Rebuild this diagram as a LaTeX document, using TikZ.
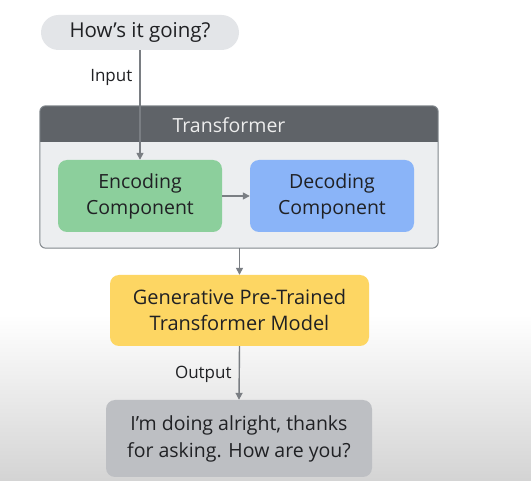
\documentclass[tikz,border=0pt]{standalone}
\usepackage{fontspec}
\setmainfont{Open Sans}
\usetikzlibrary{arrows.meta}
\definecolor{txt}{HTML}{202124}
\definecolor{pillgrey}{HTML}{E3E5E8}
\definecolor{hdrgrey}{HTML}{5F6368}
\definecolor{bodygrey}{HTML}{ECEEF0}
\definecolor{edgegrey}{HTML}{80868B}
\definecolor{encgreen}{HTML}{8CCF9C}
\definecolor{decblue}{HTML}{8AB4F8}
\definecolor{gptyellow}{HTML}{FDD663}
\definecolor{outgrey}{HTML}{BDBFC3}
\definecolor{arrowgrey}{HTML}{7A7E83}
\tikzset{
  x=1pt, y=-1pt,
  box/.style={rectangle, rounded corners=9pt, align=center, text=txt,
    font=\fontsize{19.5}{26}\selectfont, inner sep=0pt},
  flow/.style={draw=arrowgrey, line width=1.4pt,
    -{Triangle[width=7pt,length=7pt]}},
  lbl/.style={text=txt, font=\fontsize{17}{20}\selectfont, inner sep=0pt, xshift=-7pt}
}
\begin{document}
\begin{tikzpicture}
  % canvas with a soft shading towards the bottom
  \useasboundingbox (0,0) rectangle (531,481);
  \fill[white] (0,0) rectangle (531,481);
  \shade[top color=white, bottom color=black!17] (0,315) rectangle (531,481);

  % question bubble
  \node[box, fill=pillgrey, rounded corners=17.5pt, minimum width=198pt,
    minimum height=35pt, font=\fontsize{20.5}{24}\selectfont] (q) at (140,32.5) {How’s it going?};

  % transformer frame
  \node[rectangle, rounded corners=6pt, fill=bodygrey, minimum width=398pt,
    minimum height=142pt, inner sep=0pt] (tf) at (239,177) {};
  \begin{scope}
    \clip[rounded corners=6pt] (tf.north west) rectangle (tf.south east);
    \fill[hdrgrey] (tf.north west) rectangle ([yshift=-36pt]tf.north east);
  \end{scope}
  \draw[edgegrey, line width=1pt, rounded corners=6pt] (tf.north west) rectangle (tf.south east);
  \node[text=white!93!black, font=\fontsize{19.5}{23}\selectfont, inner sep=0pt] (tftitle) at (229,125) {Transformer};

  % components
  \node[box, fill=encgreen, minimum width=164pt, minimum height=72pt] (enc) at (140,196) {Encoding\\Component};
  \node[box, fill=decblue, minimum width=164pt, minimum height=72pt] (dec) at (332,196) {Decoding\\Component};

  % model and answer
  \node[box, fill=gptyellow, minimum width=259pt, minimum height=71pt, font=\fontsize{20}{26}\selectfont] (gpt) at (239.5,310.5) {Generative Pre-Trained\\Transformer Model};
  \node[box, fill=outgrey, minimum width=266pt, minimum height=77pt, font=\fontsize{19.5}{27}\selectfont] (ans) at (239,438.5) {I’m doing alright, thanks\\for asking. How are you?};

  % connectors
  \draw[flow] (q.south) -- node[lbl, anchor=east, pos=0.25] (inlbl) {Input} (enc.north);
  \draw[flow] (enc.east) -- (dec.west);
  \draw[flow] (tf.south -| gpt.north) -- (gpt.north);
  \draw[flow] (gpt.south) -- node[lbl, anchor=east, pos=0.52] (outlbl) {Output} (ans.north);
\end{tikzpicture}
\end{document}
